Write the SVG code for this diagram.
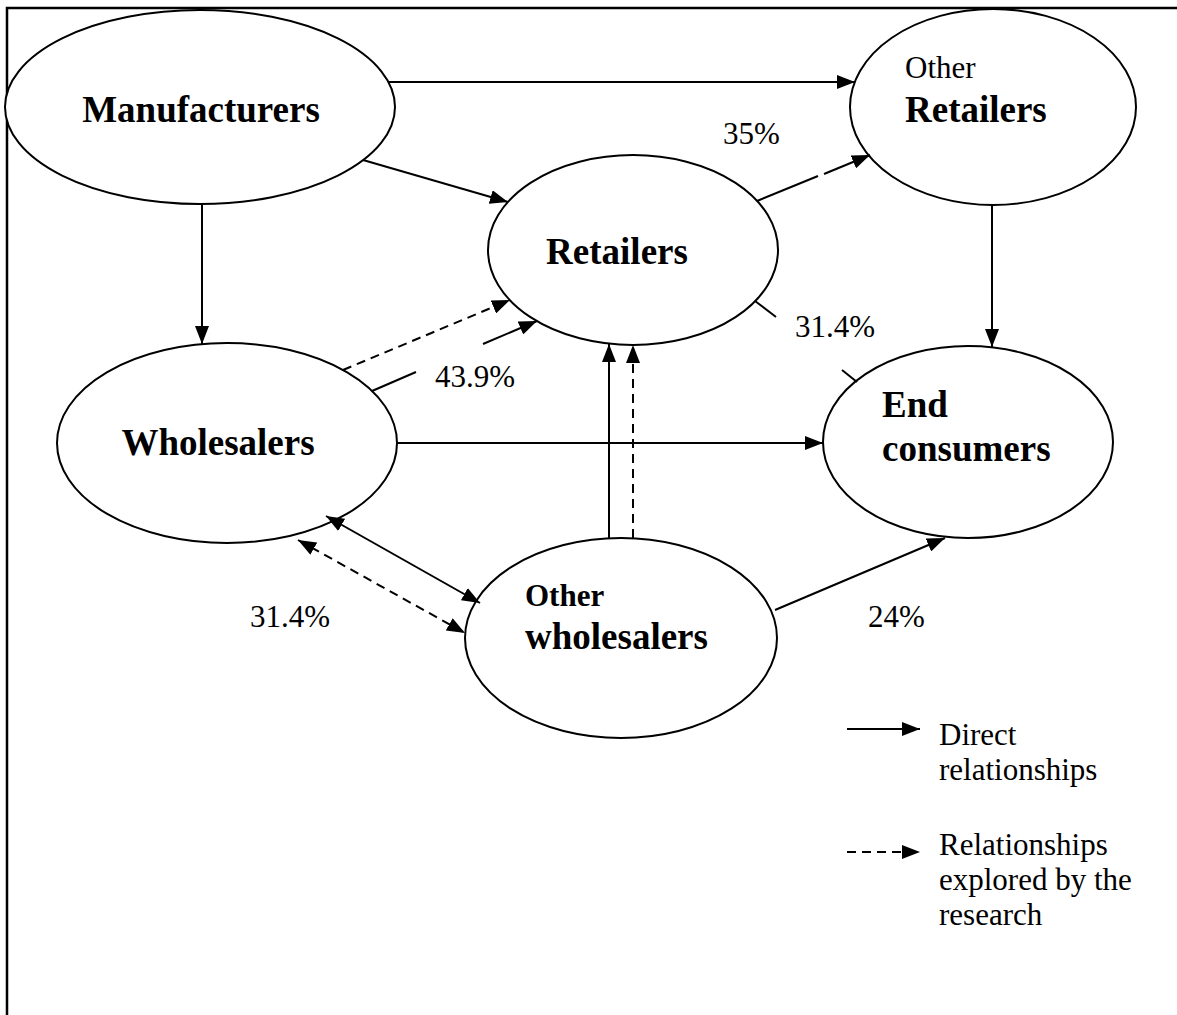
<svg xmlns="http://www.w3.org/2000/svg" width="1177" height="1015" viewBox="0 0 1177 1015">
<style>
.node{fill:#fff;stroke:#000;stroke-width:2}
.b{font-family:"Liberation Serif","Times New Roman",serif;font-weight:bold;font-size:37px;fill:#000}
.bs{font-family:"Liberation Serif","Times New Roman",serif;font-weight:bold;font-size:31px;fill:#000}
.r{font-family:"Liberation Serif","Times New Roman",serif;font-size:31px;fill:#000}
.c{fill:none;stroke:#000;stroke-width:2}
.d{fill:none;stroke:#000;stroke-width:2;stroke-dasharray:9 6}
</style>
<defs>
<marker id="ah" markerUnits="userSpaceOnUse" markerWidth="18" markerHeight="14" refX="18" refY="7" orient="auto-start-reverse">
<path d="M0,0 L18,7 L0,14 z" fill="#000"/>
</marker>
</defs>
<rect width="1177" height="1015" fill="#fff"/>
<path d="M7,1015 V8 H1177" fill="none" stroke="#000" stroke-width="2.5"/>
<g id="manufacturers">
<ellipse class="node" cx="200" cy="107" rx="195" ry="97"/>
<text class="b" x="201" y="122" text-anchor="middle">Manufacturers</text>
</g>
<g id="other-retailers">
<ellipse class="node" cx="993" cy="107" rx="143" ry="98"/>
<text class="r" x="905" y="78">Other</text>
<text class="b" x="905" y="122">Retailers</text>
</g>
<g id="retailers">
<ellipse class="node" cx="633" cy="250" rx="145" ry="95"/>
<text class="b" x="617" y="264" text-anchor="middle">Retailers</text>
</g>
<g id="wholesalers">
<ellipse class="node" cx="227" cy="443" rx="170" ry="100"/>
<text class="b" x="218" y="455" text-anchor="middle">Wholesalers</text>
</g>
<g id="end-consumers">
<ellipse class="node" cx="968" cy="442" rx="145" ry="96"/>
<text class="b" x="882" y="417">End</text>
<text class="b" x="882" y="461">consumers</text>
</g>
<g id="other-wholesalers">
<ellipse class="node" cx="621" cy="638" rx="156" ry="100"/>
<text class="bs" x="525" y="606">Other</text>
<text class="b" x="525" y="649">wholesalers</text>
</g>
<g id="connectors">
<line class="c" x1="388" y1="82" x2="855" y2="82" marker-end="url(#ah)"/>
<line class="c" x1="363" y1="160" x2="508" y2="202" marker-end="url(#ah)"/>
<line class="c" x1="202" y1="204" x2="202" y2="344" marker-end="url(#ah)"/>
<line class="c" x1="757" y1="201" x2="818" y2="176"/>
<line class="c" x1="824" y1="174" x2="870" y2="155" marker-end="url(#ah)"/>
<line class="c" x1="755" y1="301" x2="776" y2="317"/>
<line class="c" x1="842" y1="370" x2="857" y2="382"/>
<line class="d" x1="343" y1="370" x2="510" y2="300" marker-end="url(#ah)"/>
<line class="c" x1="372" y1="391" x2="416" y2="372"/>
<line class="c" x1="483" y1="344" x2="537" y2="321" marker-end="url(#ah)"/>
<line class="c" x1="397" y1="443" x2="823" y2="443" marker-end="url(#ah)"/>
<line class="c" x1="609" y1="538" x2="609" y2="344" marker-end="url(#ah)"/>
<line class="d" x1="633" y1="538" x2="633" y2="345" marker-end="url(#ah)"/>
<line class="c" x1="326" y1="516" x2="480" y2="603" marker-start="url(#ah)" marker-end="url(#ah)"/>
<line class="d" x1="298" y1="540" x2="465" y2="633" marker-start="url(#ah)" marker-end="url(#ah)"/>
<line class="c" x1="992" y1="205" x2="992" y2="347" marker-end="url(#ah)"/>
<line class="c" x1="775" y1="610" x2="945" y2="538" marker-end="url(#ah)"/>
</g>
<g id="labels">
<text class="r" x="723" y="144">35%</text>
<text class="r" x="795" y="337">31.4%</text>
<text class="r" x="435" y="387">43.9%</text>
<text class="r" x="250" y="627">31.4%</text>
<text class="r" x="868" y="627">24%</text>
</g>
<g id="legend">
<line class="c" x1="847" y1="729" x2="920" y2="729" marker-end="url(#ah)"/>
<text class="r" x="939" y="745">Direct</text>
<text class="r" x="939" y="780">relationships</text>
<line class="d" x1="847" y1="852" x2="920" y2="852" stroke-dasharray="7 5" marker-end="url(#ah)"/>
<text class="r" x="939" y="855">Relationships</text>
<text class="r" x="939" y="890">explored by the</text>
<text class="r" x="939" y="925">research</text>
</g>
</svg>
